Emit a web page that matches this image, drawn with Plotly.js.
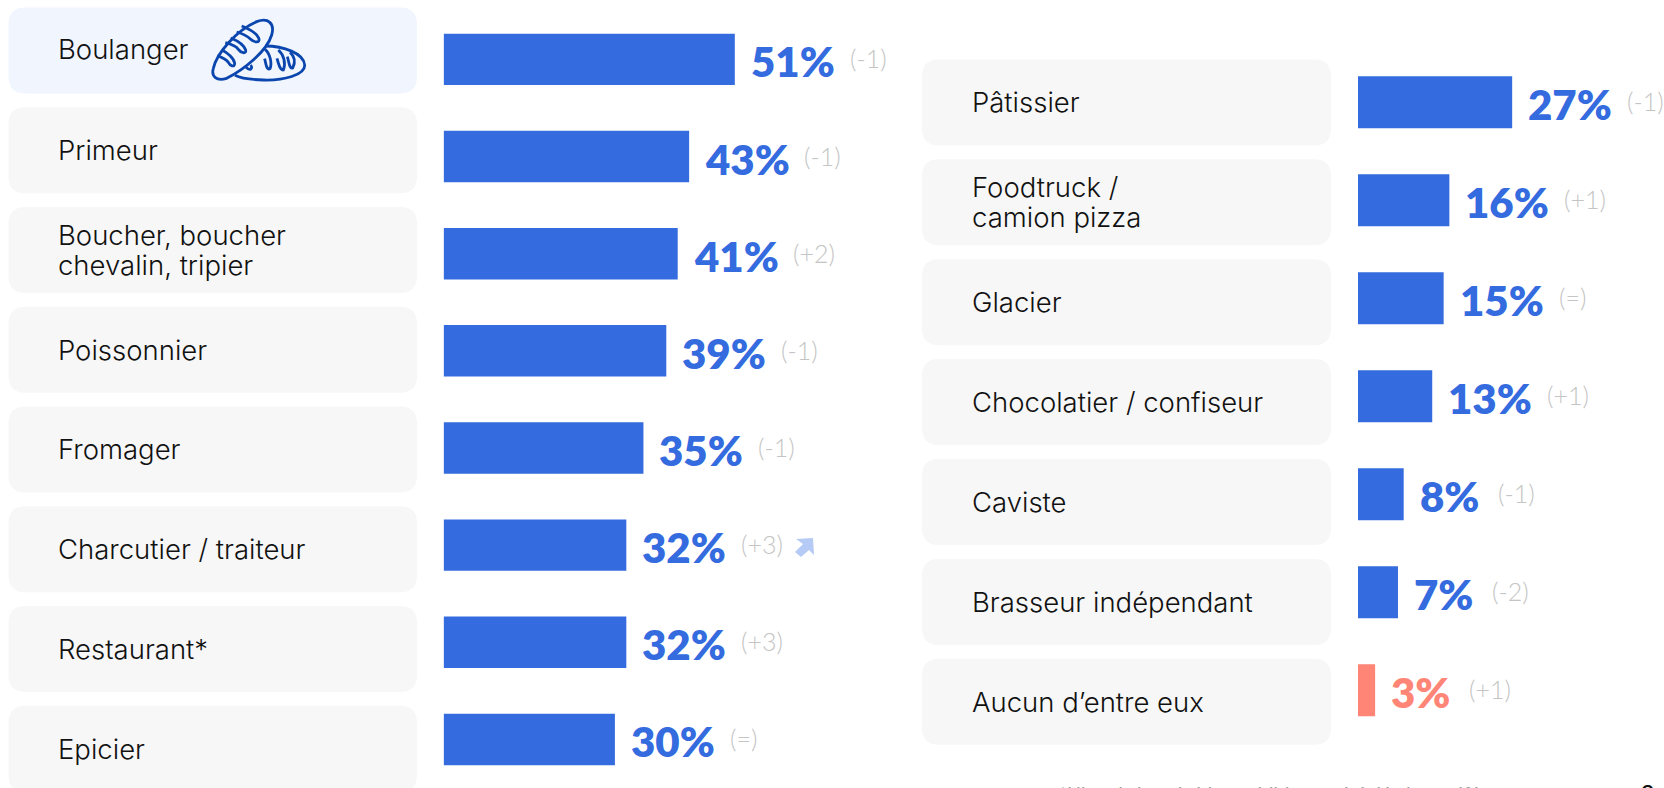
<!DOCTYPE html>
<html><head><meta charset="utf-8">
<script src="https://cdn.plot.ly/plotly-3.0.1.min.js"></script>
<style>html,body{margin:0;padding:0;background:#fff;overflow:hidden}#c{width:1664px;height:788px}</style>
</head><body><div id="c"></div>
<script>
const leftCategories = ['Boulanger','Primeur','Boucher, boucher<br>chevalin, tripier','Poissonnier','Fromager','Charcutier / traiteur','Restaurant*','Epicier'];
const leftValues = [51,43,41,39,35,32,32,30];
const leftDeltas = ['(-1)','(-1)','(+2)','(-1)','(-1)','(+3)','(+3)','(=)'];
const rightCategories = ['Pâtissier','Foodtruck /<br>camion pizza','Glacier','Chocolatier / confiseur','Caviste','Brasseur indépendant','Aucun d’entre eux'];
const rightValues = [27,16,15,13,8,7,3];
const rightDeltas = ['(-1)','(+1)','(=)','(+1)','(-1)','(-2)','(+1)'];
const footnote = '*Libre de la précédente édition : a été décrit en référence restaurant';
const pageNumber = '3';

const W=1664,H=788,PXU=5.71,BLUE='#346bdf',SALMON='#ff8577',FONT='Lato, "Liberation Sans", sans-serif',LABEL='Inter, Lato, sans-serif';
const xf=x=>x/W, yf=y=>1-y/H;
const pt=(x,y)=>xf(x)+' '+yf(y);
function card(x0,y0,x1,y1,fill){const r=17;
  return {type:'path',xref:'paper',yref:'paper',layer:'below',fillcolor:fill,line:{width:0},
   path:`M ${pt(x0+r,y0)} L ${pt(x1-r,y0)} Q ${pt(x1,y0)} ${pt(x1,y0+r)} L ${pt(x1,y1-r)} Q ${pt(x1,y1)} ${pt(x1-r,y1)} L ${pt(x0+r,y1)} Q ${pt(x0,y1)} ${pt(x0,y1-r)} L ${pt(x0,y0+r)} Q ${pt(x0,y0)} ${pt(x0+r,y0)} Z`};}
function icon(cmds,ox,oy,s,opts){
  const path=cmds.map(c=>{const o=[c[0]];for(let i=1;i<c.length;i+=2)o.push(pt(ox+c[i]*s,oy+c[i+1]*s));return o.join(' ');}).join(' ');
  return Object.assign({type:'path',xref:'paper',yref:'paper',path},opts);
}
const shapes=[], annotations=[];
const CARD_STEP_L=99.75,CARD_STEP_R=99.9,CARD_H=86,LINE=30;
const labelFont={family:LABEL,size:27.5,weight:300,color:'#111'};
function cardLabel(text,x,cy){
  const lines=text.split('<br>');
  lines.forEach((ln,k)=>annotations.push({xref:'paper',yref:'paper',x:xf(x),y:yf(cy+(k-(lines.length-1)/2)*LINE),xanchor:'left',yanchor:'middle',align:'left',showarrow:false,text:ln,font:labelFont}));
}
leftCategories.forEach((c,i)=>{const t=7.4+i*CARD_STEP_L;
  shapes.push(card(8.5,t,417,t+CARD_H,i===0?'#f0f5fe':'#f7f7f7'));
  cardLabel(c,55.5,t+CARD_H/2+(i===0?-1:0));
});
rightCategories.forEach((c,i)=>{const t=59.4+i*CARD_STEP_R;
  shapes.push(card(922,t,1331,t+CARD_H,'#f7f7f7'));
  cardLabel(c,969.5,t+CARD_H/2);
});
function valueLabels(cats,vals,deltas,xr,yr,keys){
  cats.forEach((c,i)=>{
    const col=c.startsWith('Aucun')?SALMON:BLUE;
    annotations.push({xref:xr,yref:yr,x:vals[i],y:keys[i],xanchor:'left',yanchor:'middle',xshift:14,yshift:-2,showarrow:false,text:vals[i]+'%',font:{family:FONT,size:42,weight:800,color:col}});
    const dx=String(vals[i]).length===2?113:92;
    annotations.push({xref:xr,yref:yr,x:vals[i],y:keys[i],xanchor:'left',yanchor:'middle',xshift:dx,yshift:1,showarrow:false,text:deltas[i],font:{family:FONT,size:25,weight:300,color:'#c4c4c4'}});
  });
}
const leftKeys=leftCategories.map(String), rightKeys=rightCategories.map(String);
valueLabels(leftCategories,leftValues,leftDeltas,'x','y',leftKeys);
valueLabels(rightCategories,rightValues,rightDeltas,'x2','y2',rightKeys);
annotations.push({xref:'paper',yref:'paper',x:xf(1056),y:yf(793),xanchor:'left',yanchor:'middle',showarrow:false,text:'<i>'+footnote+'</i>',font:{family:FONT,size:20,color:'#9a9a9a'}});
annotations.push({xref:'paper',yref:'paper',x:xf(1647),y:yf(795),xanchor:'center',yanchor:'middle',showarrow:false,text:pageNumber,font:{family:FONT,size:26,color:'#111'}});

// bread icon
const bl={line:{color:'#0b46ae',width:2.8},fillcolor:'rgba(0,0,0,0)'};
const bx=200,by=10,bs=1/3;
[
 [['M',40,175],['C',50,130,110,60,170,35],['C',205,22,225,40,215,75],['C',200,125,130,180,80,205],['C',50,215,33,200,40,175],['Z']],
 [['M',195,108],['C',250,108,312,130,314,165],['C',316,195,250,212,190,210],['C',150,209,120,204,105,196]],
 [['M',125,48],['C',145,56,170,70,176,84],['C',182,100,162,98,152,88],['C',142,78,125,70,110,66]],
 [['M',92,84],['C',112,92,132,105,137,120],['C',140,134,122,128,115,118],['C',108,108,92,102,76,98]],
 [['M',66,120],['C',82,128,102,145,104,160],['C',104,174,90,167,85,157],['C',78,147,66,142,52,137]],
 [['M',195,118],['C',210,130,217,160,210,176],['C',200,182,197,160,194,146]],
 [['M',235,120],['C',252,135,258,160,250,180],['C',240,182,235,160,231,145]],
 [['M',270,127],['C',284,140,288,155,278,174],['C',268,178,267,155,262,140]],
 [['M',152,165],['C',160,176,150,184,138,172]]
].forEach(c=>shapes.push(icon(c,bx,by,bs,bl)));
// rising arrow beside the Charcutier row
shapes.push(icon([['M',796,539],['L',813,538],['L',814,555],['L',809,550],['L',801,557],['L',795,552],['L',803,544],['Z']],0,0,1,{fillcolor:'#b5caf5',line:{width:0}}));

const barsCommon={type:'bar',orientation:'h',hoverinfo:'skip',showlegend:false};
const data=[
 Object.assign({},barsCommon,{x:leftValues,y:leftKeys,xaxis:'x',yaxis:'y',marker:{color:BLUE,line:{width:0}}}),
 Object.assign({},barsCommon,{x:rightValues,y:rightKeys,xaxis:'x2',yaxis:'y2',marker:{color:rightCategories.map(c=>c.startsWith('Aucun')?SALMON:BLUE),line:{width:0}}})
];
const hidden={visible:false,showgrid:false,zeroline:false,fixedrange:true};
const lx0=443.6,lx1=900,rx0=1358,rx1=1664;
const ROW_L=97.2,ROW_R=98;
const lc0=59.4,rc0=102.3;
const yDom=(c0,step,n)=>[yf(c0+(n-0.5)*step),yf(c0-0.5*step)];
const layout={width:W,height:H,margin:{l:0,r:0,t:0,b:0},paper_bgcolor:'#fff',plot_bgcolor:'rgba(0,0,0,0)',bargap:0.47,
 xaxis:Object.assign({},hidden,{domain:[xf(lx0),xf(lx1)],range:[0,(lx1-lx0)/PXU],anchor:'y'}),
 yaxis:Object.assign({},hidden,{domain:yDom(lc0,ROW_L,8).map(v=>Math.max(0,v)),type:'category',categoryorder:'array',categoryarray:leftKeys,range:[7.5,-0.5],anchor:'x'}),
 xaxis2:Object.assign({},hidden,{domain:[xf(rx0),xf(rx1)],range:[0,(rx1-rx0)/PXU],anchor:'y2'}),
 yaxis2:Object.assign({},hidden,{domain:yDom(rc0,ROW_R,7),type:'category',categoryorder:'array',categoryarray:rightKeys,range:[6.5,-0.5],anchor:'x2'}),
 shapes,annotations};
Plotly.newPlot('c',data,layout,{staticPlot:true,displayModeBar:false});
</script></body></html>
